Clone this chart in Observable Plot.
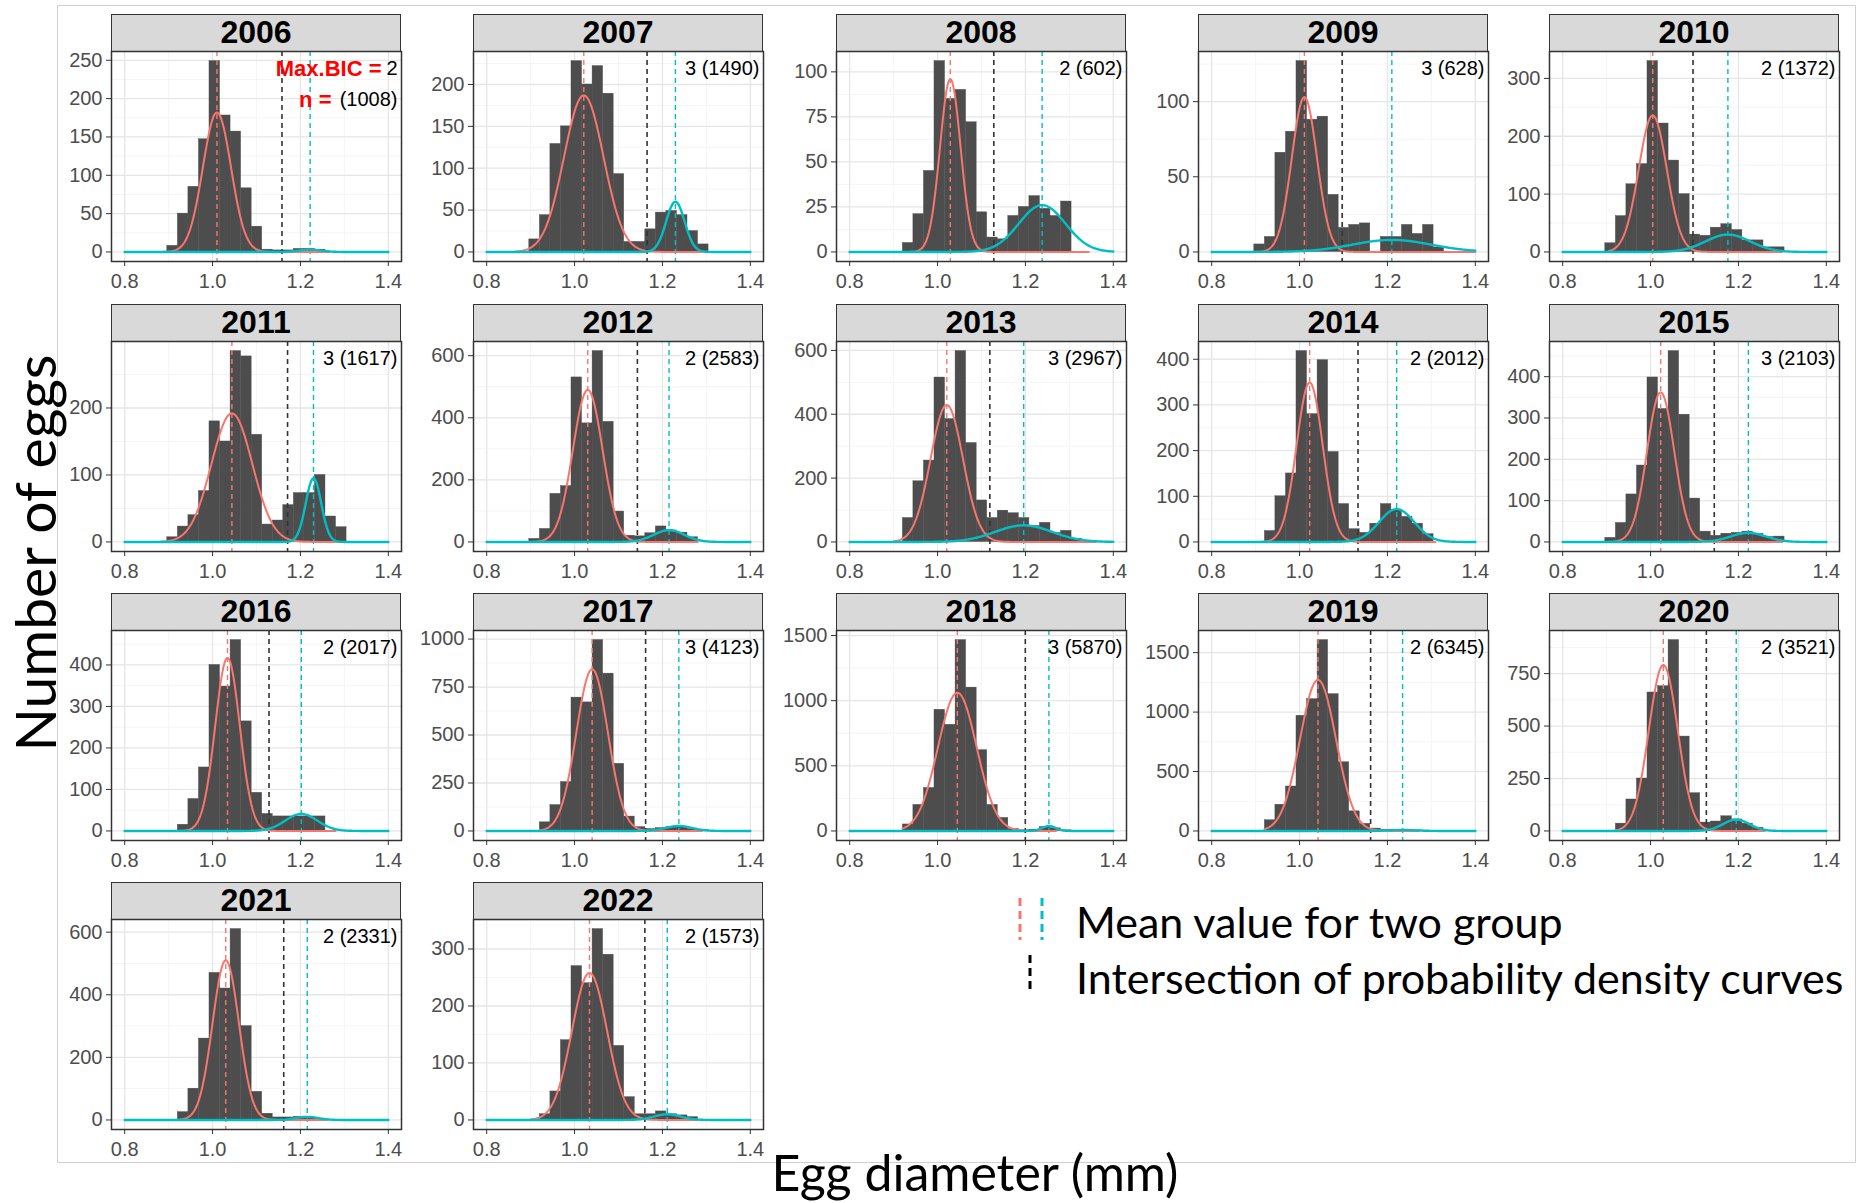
<!DOCTYPE html>
<html><head><meta charset="utf-8">
<script src="https://cdn.jsdelivr.net/npm/d3@7"></script>
<script src="https://cdn.jsdelivr.net/npm/@observablehq/plot@0.6"></script>
<style>
body{margin:0;background:#fff;}
#root{position:relative;width:1865px;height:1203px;font-family:"Liberation Sans",Arial,sans-serif;overflow:hidden;}
.strip{position:absolute;background:#d9d9d9;border:1.5px solid #333;box-sizing:border-box;font-weight:bold;font-size:32px;text-align:center;line-height:35px;color:#000;}
.big{position:absolute;font-family:Lato,"Open Sans",sans-serif;color:#000;white-space:nowrap;line-height:1.05;}
</style></head><body><div id="root"></div><script>
// ---------- data ----------
const years = [2006,2007,2008,2009,2010,2011,2012,2013,2014,2015,2016,2017,2018,2019,2020,2021,2022];
// left edges of the histogram bins (mm); all bins are 0.024 mm wide
const binLeft = [0.897,0.921,0.945,0.969,0.993,1.017,1.041,1.065,1.089,1.113,1.137,1.161,1.185,1.209,1.233,1.257,1.281,1.305];
const binWidth = 0.024;
// counts per bin, one array per year
const c2006 = [8,50,85,147,249,178,157,83,33,3,2,2,4,4,3,0,0,0];
const c2007 = [15,44,129,150,228,200,222,189,93,12,12,27,47,49,44,25,9,0];
const c2008 = [0,5,21,45,106,85,90,72,22,8,7,20,25,31,24,20,28,0];
const c2009 = [5,10,66,80,127,88,90,38,16,18,19,0,10,10,18,12,18,3];
const c2010 = [15,62,117,152,330,222,158,100,30,28,42,48,38,20,20,8,8,0];
const c2011 = [7,23,40,76,180,150,285,277,160,26,32,55,73,73,100,38,22,0];
const c2012 = [10,42,155,180,530,382,615,387,98,20,18,28,50,37,30,15,0,0];
const c2013 = [0,75,190,255,515,385,598,310,130,75,98,90,75,50,60,28,35,10];
const c2014 = [0,24,100,150,418,280,398,197,83,28,20,40,83,70,55,40,17,0];
const c2015 = [10,46,115,185,398,322,462,308,105,25,15,20,22,25,20,12,13,0];
const c2016 = [0,15,77,153,400,348,460,264,92,41,35,35,35,35,35,0,0,0];
const c2017 = [0,45,135,255,695,670,995,820,350,75,20,10,15,20,20,10,5,0];
const c2018 = [0,50,200,330,930,815,1465,1100,620,200,100,15,5,10,30,20,5,0];
const c2019 = [0,90,221,374,969,1109,1606,1151,578,165,60,20,10,10,10,5,0,0];
const c2020 = [0,35,150,250,660,690,910,450,180,40,45,70,55,35,15,0,0,0];
const c2021 = [0,25,100,260,470,420,610,300,90,20,8,8,10,6,4,0,0,0];
const c2022 = [0,10,50,140,270,240,335,290,130,40,10,10,15,10,8,5,0,0];
const counts = [c2006,c2007,c2008,c2009,c2010,c2011,c2012,c2013,c2014,c2015,c2016,c2017,c2018,c2019,c2020,c2021,c2022];
// fitted normal components (group 1 = red, group 2 = cyan)
const redMean  = [1.010,1.021,1.029,1.011,1.005,1.044,1.030,1.021,1.023,1.023,1.034,1.040,1.045,1.042,1.029,1.030,1.034];
const redSD    = [0.032,0.045,0.0234,0.0287,0.032,0.0466,0.0338,0.0369,0.0297,0.031,0.028,0.036,0.044,0.041,0.033,0.030,0.040];
const redPeak  = [182,187,96,103,236,192,490,429,349,362,417,843,1061,1271,791,510,258];
const redFrom  = [0.885,0.865,0.93,0.90,0.905,0.88,0.90,0.90,0.915,0.90,0.92,0.92,0.92,0.92,0.92,0.92,0.90];
const redTo    = [1.265,1.29,1.345,1.40,1.30,1.30,1.28,1.36,1.31,1.30,1.28,1.29,1.27,1.27,1.26,1.26,1.28];
const cyanMean = [1.222,1.2295,1.238,1.210,1.176,1.2297,1.215,1.196,1.221,1.2226,1.202,1.2373,1.2534,1.2345,1.195,1.2155,1.211];
const cyanSD   = [0.025,0.021,0.053,0.09,0.051,0.0177,0.035,0.065,0.040,0.040,0.0366,0.030,0.015,0.030,0.030,0.025,0.030];
const cyanPeak = [3,60,26,8,30,95,38,52,72,22,41,26,38,8,54,10,10];
const intersect = [1.158,1.165,1.128,1.097,1.0966,1.1707,1.143,1.119,1.133,1.145,1.1285,1.1617,1.1997,1.1617,1.127,1.162,1.160];
const maxBIC = [2,3,2,3,2,3,2,3,2,3,2,3,3,2,2,2,2];
const nEggs  = [1008,1490,602,628,1372,1617,2583,2967,2012,2103,2017,4123,5870,6345,3521,2331,1573];
const yTicks = [
  [0,50,100,150,200,250],[0,50,100,150,200],[0,25,50,75,100],[0,50,100],[0,100,200,300],
  [0,100,200],[0,200,400,600],[0,200,400,600],[0,100,200,300,400],[0,100,200,300,400],
  [0,100,200,300,400],[0,250,500,750,1000],[0,500,1000,1500],[0,500,1000,1500],[0,250,500,750],
  [0,200,400,600],[0,100,200,300]
];
const xTicks = [0.8,1.0,1.2,1.4];
const xMinor = [0.9,1.1,1.3];

// ---------- layout ----------
const root = document.getElementById("root");
const colLeft = [111,473,836,1198,1549];
const rowTop = [14,304,593,882];
const PW = 290, PH = 210, SH = 37, ML = 66, MB = 40, MR = 6;
const RED = "#F8766D", CYAN = "#00BFC4";

function curve(mu, sd, peak, lo, hi) {
  const pts = [];
  for (let x = lo; x <= hi + 1e-9; x += 0.002) pts.push({x, y: peak * Math.exp(-0.5 * ((x - mu) / sd) ** 2)});
  return pts;
}

years.forEach((yr, i) => {
  const col = i % 5, row = Math.floor(i / 5);
  const fx = colLeft[col], ty = rowTop[row];
  const s = document.createElement("div");
  s.className = "strip";
  Object.assign(s.style, {left: fx + "px", top: ty + "px", width: PW + "px", height: (SH + 1) + "px"});
  s.textContent = yr;
  root.appendChild(s);

  const cts = counts[i];
  const bars = cts.map((c, k) => ({x1: binLeft[k], x2: binLeft[k] + binWidth, y: c})).filter(d => d.y > 0);
  const M = Math.max(d3.max(cts), redPeak[i], cyanPeak[i]);
  const dom = [-0.05 * M, 1.05 * M];
  const major = yTicks[i];
  const step = major[1] - major[0];
  const minor = major.map(t => t + step / 2).filter(t => t < dom[1]);

  const marks = [
    Plot.gridX(xMinor, {stroke: "#f2f2f2", strokeOpacity: 1, strokeWidth: 0.8}),
    Plot.gridY(minor, {stroke: "#f2f2f2", strokeOpacity: 1, strokeWidth: 0.8}),
    Plot.gridX(xTicks, {stroke: "#e6e6e6", strokeOpacity: 1, strokeWidth: 1.3}),
    Plot.gridY(major, {stroke: "#e6e6e6", strokeOpacity: 1, strokeWidth: 1.3}),
    Plot.rectY(bars, {x1: "x1", x2: "x2", y: "y", fill: "#4d4d4d", stroke: "#4d4d4d", strokeWidth: 0.4, inset: 0}),
    Plot.ruleX([redMean[i]], {stroke: RED, strokeWidth: 1.4, strokeDasharray: "5,4"}),
    Plot.ruleX([intersect[i]], {stroke: "#333", strokeWidth: 1.6, strokeDasharray: "5,4"}),
    Plot.ruleX([cyanMean[i]], {stroke: CYAN, strokeWidth: 1.4, strokeDasharray: "5,4"}),
    Plot.line(curve(redMean[i], redSD[i], redPeak[i], redFrom[i], redTo[i]), {x: "x", y: "y", stroke: RED, strokeWidth: 2}),
    Plot.line(curve(cyanMean[i], cyanSD[i], cyanPeak[i], 0.8, 1.4), {x: "x", y: "y", stroke: CYAN, strokeWidth: 2.4}),
    Plot.frame({stroke: "#333", strokeWidth: 1.5}),
    Plot.axisX(xTicks, {tickSize: 5, tickPadding: 7, tickFormat: d => d.toFixed(1), fontSize: 20, label: null, fill: "#4d4d4d", stroke: "#333"}),
    Plot.axisY(major, {tickSize: 5, tickPadding: 4, tickFormat: d => String(d), fontSize: 20, label: null, fill: "#4d4d4d", stroke: "#333"})
  ];
  if (i === 0) {
    marks.push(
      Plot.text(["Max.BIC ="], {frameAnchor: "top-right", dx: -20, dy: 17, lineAnchor: "middle", textAnchor: "end", fill: "#ff0000", fontWeight: "bold", fontSize: 22}),
      Plot.text([String(maxBIC[i])], {frameAnchor: "top-right", dx: -4, dy: 17, lineAnchor: "middle", textAnchor: "end", fill: "#000", fontSize: 20}),
      Plot.text(["n ="], {frameAnchor: "top-right", dx: -70, dy: 48, lineAnchor: "middle", textAnchor: "end", fill: "#ff0000", fontWeight: "bold", fontSize: 22}),
      Plot.text(["(" + nEggs[i] + ")"], {frameAnchor: "top-right", dx: -4, dy: 48, lineAnchor: "middle", textAnchor: "end", fill: "#000", fontSize: 20})
    );
  } else {
    marks.push(Plot.text([maxBIC[i] + " (" + nEggs[i] + ")"], {frameAnchor: "top-right", dx: -4, dy: 17, lineAnchor: "middle", textAnchor: "end", fill: "#000", fontSize: 20}));
  }

  const svg = Plot.plot({
    width: ML + PW + MR, height: PH + MB,
    marginLeft: ML, marginRight: MR, marginTop: 0, marginBottom: MB,
    x: {domain: [0.77, 1.43], axis: null},
    y: {domain: dom, axis: null},
    style: {fontFamily: "'Liberation Sans', Arial, sans-serif", fontSize: "20px", background: "transparent", overflow: "visible"},
    marks
  });
  Object.assign(svg.style, {position: "absolute", left: (fx - ML) + "px", top: (ty + SH) + "px"});
  root.appendChild(svg);
});

// outer light border
const border = document.createElement("div");
Object.assign(border.style, {position: "absolute", left: "57px", top: "5px", width: "1799px", height: "1158px", border: "1px solid #d0d0d0", boxSizing: "border-box", pointerEvents: "none"});
root.appendChild(border);

// axis titles
const yl = document.createElement("div");
yl.className = "big";
yl.textContent = "Number of eggs";
Object.assign(yl.style, {fontSize: "57px", lineHeight: "60px", writingMode: "vertical-rl", left: "4px", top: "553px", transform: "translate(0,-50%) rotate(180deg)"});
root.appendChild(yl);
const xl = document.createElement("div");
xl.className = "big";
xl.textContent = "Egg diameter (mm)";
Object.assign(xl.style, {fontSize: "50px", left: "975px", top: "1172px", transform: "translate(-50%,-50%)"});
root.appendChild(xl);

// legend
const lg = document.createElementNS("http://www.w3.org/2000/svg", "svg");
lg.setAttribute("width", "60"); lg.setAttribute("height", "110");
Object.assign(lg.style, {position: "absolute", left: "1000px", top: "892px"});
lg.innerHTML = `<line x1="20" x2="20" y1="6" y2="48" stroke="${RED}" stroke-width="3" stroke-dasharray="8,5"/>
<line x1="42" x2="42" y1="6" y2="48" stroke="${CYAN}" stroke-width="3" stroke-dasharray="8,5"/>
<line x1="30" x2="30" y1="63" y2="101" stroke="#000" stroke-width="3" stroke-dasharray="8,5"/>`;
root.appendChild(lg);
const l1 = document.createElement("div");
l1.className = "big"; l1.textContent = "Mean value for two group";
Object.assign(l1.style, {fontSize: "43px", left: "1076px", top: "922px", transform: "translate(0,-50%)"});
root.appendChild(l1);
const l2 = document.createElement("div");
l2.className = "big"; l2.textContent = "Intersection of probability density curves";
Object.assign(l2.style, {fontSize: "43px", left: "1076px", top: "978px", transform: "translate(0,-50%)"});
root.appendChild(l2);
</script></body></html>
